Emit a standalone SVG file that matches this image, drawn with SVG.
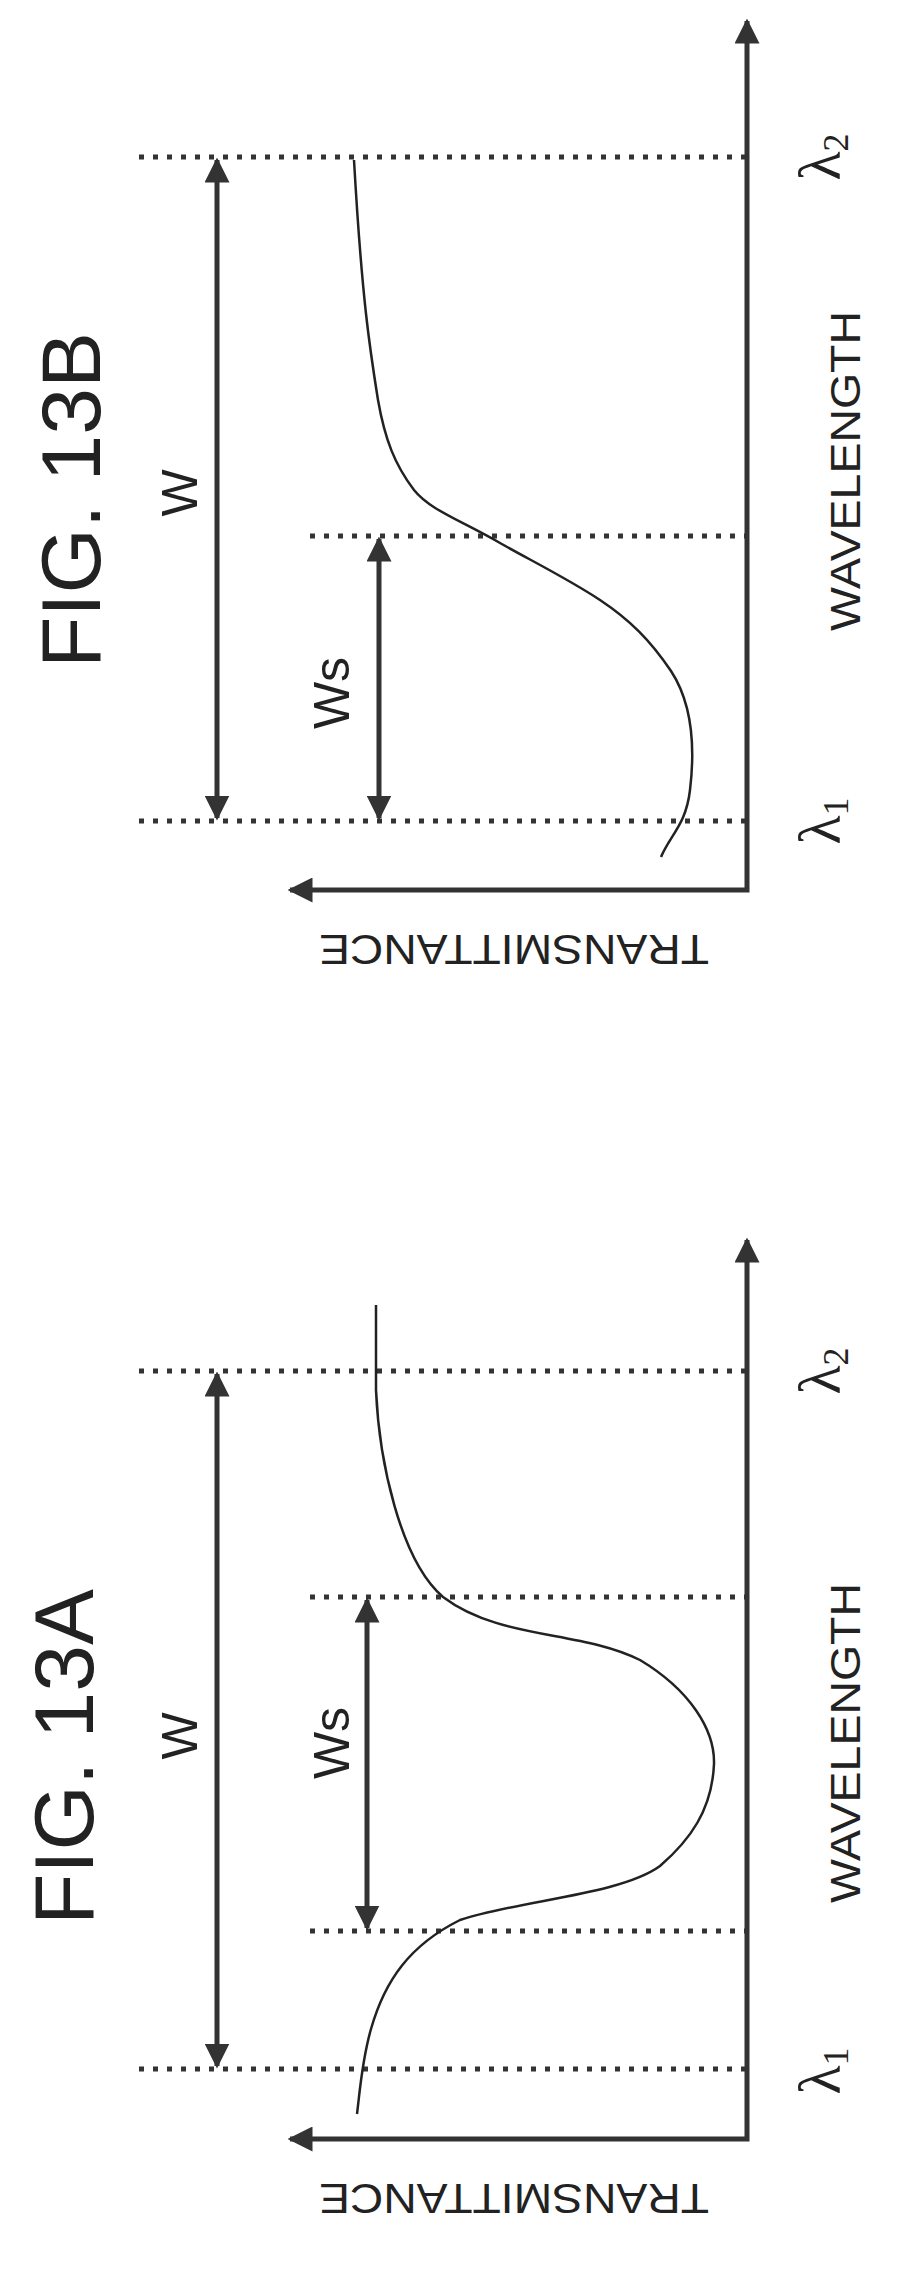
<svg xmlns="http://www.w3.org/2000/svg" width="900" height="2286" viewBox="0 0 900 2286">
<style>
.ax{stroke:#333;stroke-width:5;fill:none}
.dot{stroke:#333;stroke-width:5;stroke-dasharray:5 9;fill:none}
.dim{stroke:#333;stroke-width:5;fill:none}
.cv{stroke:#222;stroke-width:2.5;fill:none}
text{font-family:"Liberation Sans",Arial,sans-serif;fill:#222;text-anchor:middle}
.fig{font-size:84px}
.lab{font-size:50px}
.ax-t{font-size:42px}
.lam{font-family:"Liberation Serif","Times New Roman",serif;font-size:60px}
</style>
<defs>
<marker id="ah" viewBox="0 0 10 10" refX="9" refY="5" markerWidth="5" markerHeight="5" orient="auto-start-reverse"><path d="M0,0L10,5L0,10z" fill="#333"/></marker>
</defs>
<g id="fig13B">
<text class="fig" transform="translate(100 500) rotate(-90)">FIG. 13B</text>
<g id="connectors-B">
<path class="ax" d="M290,890H747V21" marker-start="url(#ah)" marker-end="url(#ah)"/>
<path class="dot" d="M139,157H747M310,536H747M139,821H747"/>
<path class="dim" d="M217,160V818" marker-start="url(#ah)" marker-end="url(#ah)"/>
<path class="dim" d="M379,539V818" marker-start="url(#ah)" marker-end="url(#ah)"/>
</g>
<path class="cv" d="M661,857C670,835 686,825 690,790C696,740 690,700 671,671C650,640 630,620 600,600C570,580 530,560 500,543C460,520 430,510 414,490C395,465 385,440 378,400C370,350 362,300 354,160"/>
<text class="lab" transform="translate(197 493) rotate(-90)">W</text>
<text class="lab" transform="translate(349 693) rotate(-90)">Ws</text>
<text class="ax-t" transform="translate(514 935) rotate(180)" textLength="390" lengthAdjust="spacingAndGlyphs">TRANSMITTANCE</text>
<text class="ax-t" transform="translate(860 471) rotate(-90)" textLength="320" lengthAdjust="spacingAndGlyphs">WAVELENGTH</text>
<text class="lam" transform="translate(840 821) rotate(-90)">λ<tspan font-size="36" dy="8">1</tspan></text>
<text class="lam" transform="translate(840 157) rotate(-90)">λ<tspan font-size="36" dy="8">2</tspan></text>
</g>
<g id="fig13A">
<text class="fig" transform="translate(93 1757) rotate(-90)">FIG. 13A</text>
<g id="connectors-A">
<path class="ax" d="M290,2139H747V1240" marker-start="url(#ah)" marker-end="url(#ah)"/>
<path class="dot" d="M139,1371H747M310,1597H747M310,1931H747M139,2069H747"/>
<path class="dim" d="M217,1374V2066" marker-start="url(#ah)" marker-end="url(#ah)"/>
<path class="dim" d="M367,1600V1928" marker-start="url(#ah)" marker-end="url(#ah)"/>
</g>
<path class="cv" d="M376,1305V1390C379,1460 400,1560 443,1597C500,1640 580,1630 640,1660C690,1690 715,1730 714,1764C712,1810 690,1840 660,1866C620,1895 520,1900 460,1920C410,1945 385,1980 371,2029C362,2060 360,2090 357,2114"/>
<text class="lab" transform="translate(197 1736) rotate(-90)">W</text>
<text class="lab" transform="translate(349 1743) rotate(-90)">Ws</text>
<text class="ax-t" transform="translate(514 2184) rotate(180)" textLength="390" lengthAdjust="spacingAndGlyphs">TRANSMITTANCE</text>
<text class="ax-t" transform="translate(860 1743) rotate(-90)" textLength="320" lengthAdjust="spacingAndGlyphs">WAVELENGTH</text>
<text class="lam" transform="translate(840 2071) rotate(-90)">λ<tspan font-size="36" dy="8">1</tspan></text>
<text class="lam" transform="translate(840 1371) rotate(-90)">λ<tspan font-size="36" dy="8">2</tspan></text>
</g>
</svg>
